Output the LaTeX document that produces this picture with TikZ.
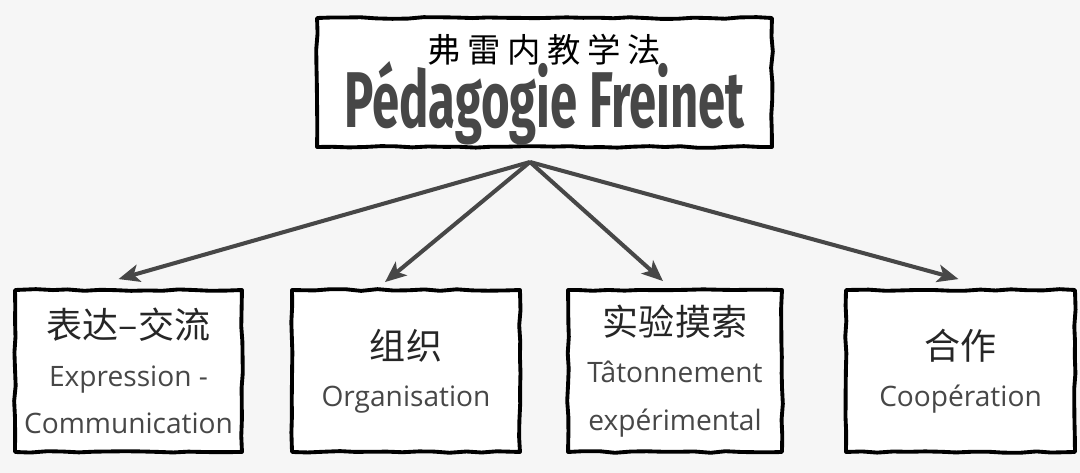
\documentclass[tikz,border=0pt]{standalone}
\usepackage{fontspec}
\setmainfont{Open Sans}
\newfontfamily\cjk{Noto Sans CJK SC}
\newfontfamily\titlefont{Fira Sans}
\usetikzlibrary{arrows.meta,decorations.pathmorphing}
\definecolor{ink}{HTML}{474747}
\definecolor{paper}{HTML}{F6F6F6}
\newcommand{\gap}{\hspace{0.2em}}

\begin{document}
\pgfmathsetseed{7}
\begin{tikzpicture}[x=0.02cm, y=-0.02cm,
  sketch/.style={draw=black, fill=white, line width=2.2pt, line join=round,
    decorate, decoration={random steps, segment length=9pt, amplitude=0.5pt}},
  leaf/.style={sketch, align=center, text=ink, minimum height=3.24cm,
    font=\fontsize{16}{27}\selectfont},
  link/.style={draw=ink, line width=2.3pt, -{Stealth[length=12pt, width=10pt, inset=3pt]}}]
  \useasboundingbox[fill=paper] (0,0) rectangle (1080,473);

  % title
  \node[sketch, minimum width=9.1cm, minimum height=2.58cm, inner ysep=0pt, align=center] (root) at (544.5,82.5)
    {\rule{0pt}{24pt}{\cjk\fontsize{19}{19}\selectfont 弗\gap 雷\gap 内\gap 教\gap 学\gap 法}\\[-3pt]
     {\titlefont\bfseries\color{ink}\fontsize{45}{45}\selectfont\scalebox{0.62}[1]{Pédagogie Freinet}}};
  \coordinate (apex) at (530,162);

  % the four parts
  \node[leaf, minimum width=4.54cm] (expr) at (128.5,371)
    {{\cjk\color{black!85}\fontsize{20.5}{27}\selectfont 表达–交流}\\ Expression -\\ Communication};
  \node[leaf, minimum width=4.56cm] (orga) at (406,371)
    {{\cjk\color{black!85}\fontsize{20.5}{27}\selectfont 组织}\\ Organisation};
  \node[leaf, minimum width=4.28cm] (tato) at (675,371)
    {{\cjk\color{black!85}\fontsize{20.5}{27}\selectfont 实验摸索}\\ Tâtonnement\\ expérimental};
  \node[leaf, minimum width=4.58cm] (coop) at (960.5,371)
    {{\cjk\color{black!85}\fontsize{20.5}{27}\selectfont 合作}\\ Coopération};

  \draw[link] (apex) -- ([shift={(-10,-9)}]expr.north);
  \draw[link] (apex) -- ([shift={(-21,-6)}]orga.north);
  \draw[link] (apex) -- ([shift={(-12,-7)}]tato.north);
  \draw[link] (apex) -- ([shift={(-2,-9)}]coop.north);
\end{tikzpicture}
\end{document}
